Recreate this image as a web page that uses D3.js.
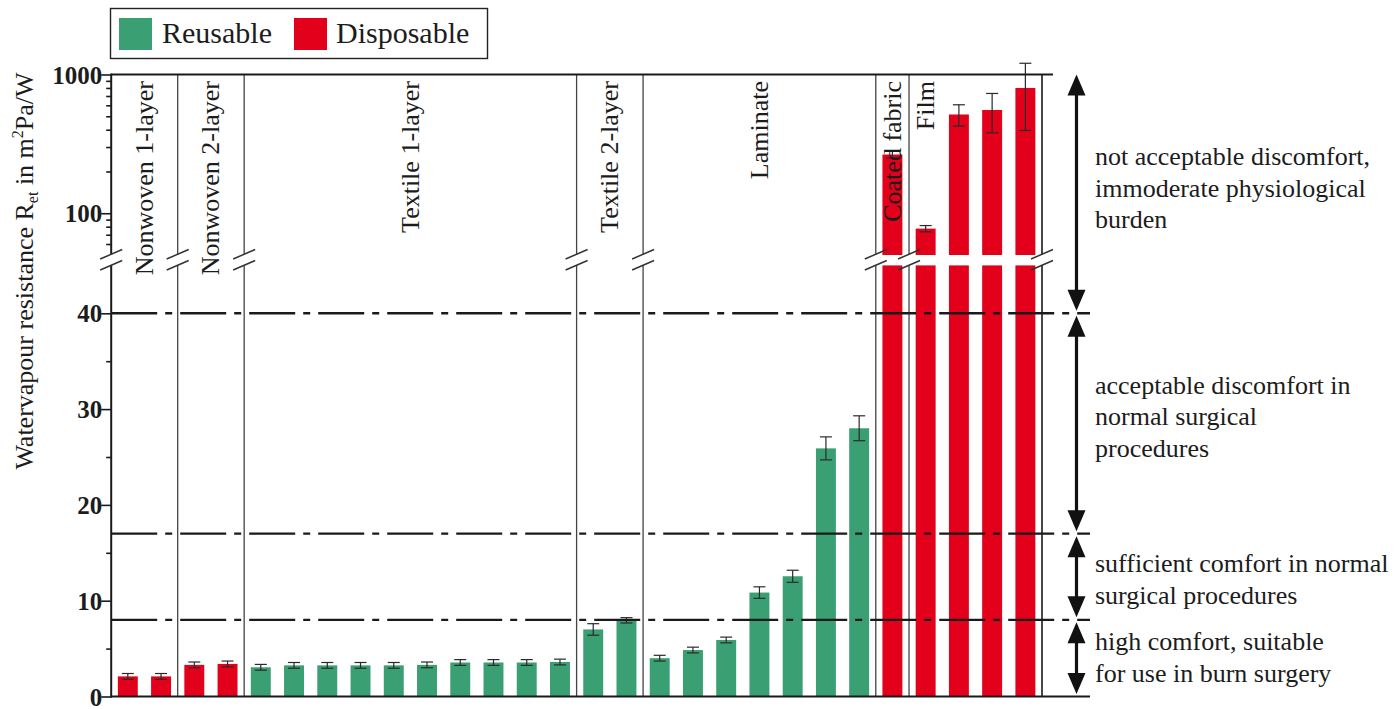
<!DOCTYPE html>
<html><head><meta charset="utf-8">
<script src="https://cdn.jsdelivr.net/npm/d3@7"></script>
<style>
body{margin:0;background:#fff}
svg{display:block}
text{font-family:"Liberation Serif","Times New Roman",serif;fill:#1c1c1c}
</style>
</head><body>
<svg id="c" width="1398" height="709"></svg>
<script>
// ---------------- data ----------------
const groups      = ["Nonwoven 1-layer","Nonwoven 2-layer","Textile 1-layer","Textile 2-layer","Laminate","Coated fabric","Film"];
const groupSizes  = [2, 2, 10, 2, 7, 1, 4];
const groupTypes  = ["Disposable","Disposable","Reusable","Reusable","Reusable","Disposable","Disposable"];
const labelAtFirstBar = ["Film"];
const values = [2.1, 2.1,  3.3, 3.4,
                3.05, 3.25, 3.25, 3.25, 3.25, 3.3, 3.55, 3.55, 3.55, 3.6,
                7.0, 7.95,
                4.0, 4.85, 5.9, 10.85, 12.55, 25.9, 28.0,
                265,
                77.5, 515, 555, 800];
const errors = [0.3, 0.3,  0.3, 0.3,
                0.3, 0.3, 0.3, 0.3, 0.3, 0.3, 0.3, 0.3, 0.3, 0.3,
                0.6, 0.28,
                0.3, 0.3, 0.3, 0.6, 0.63, 1.2, 1.3,
                15,
                4, 90, 175, 405];
const legendLabels = ["Reusable","Disposable"];
const linTicks  = [0, 10, 20, 30, 40];
const linMinor  = [5, 15, 25, 35];
const logTicks  = [100, 1000];
const logMinor  = [60, 70, 80, 90, 200, 300, 400, 500, 600, 700, 800, 900];
const thresholds = [40, 17, 8];
const zoneTexts = [
  ["not acceptable discomfort,","immoderate physiological","burden"],
  ["acceptable discomfort in","normal surgical","procedures"],
  ["sufficient comfort in normal","surgical procedures"],
  ["high comfort, suitable","for use in burn surgery"]
];
const yTitle = ["Watervapour resistance R","et"," in m","2","Pa/W"];

// ---------------- layout ----------------
const colors = {Reusable:"#3a9f73", Disposable:"#e2001a"};
const svg = d3.select("#c");
const axisX = 111.2, rightX = 1042, topY = 74.5, botY = 696.5;
const linMax = 45, logMin = 50, logMax = 1000;
const yLow  = d3.scaleLinear().domain([0, linMax]).range([botY, 265.4]);
const yHigh = d3.scaleLog().domain([logMin, logMax]).range([255, topY]);
const y = v => v <= linMax ? yLow(v) : yHigh(v);

const barType = [], barGroup = [];
groupSizes.forEach((n, g) => { for (let i = 0; i < n; i++) { barType.push(groupTypes[g]); barGroup.push(g); } });
const idx = d3.range(values.length);
const x = d3.scaleBand().domain(idx).range([axisX, rightX]).paddingInner(0.4).paddingOuter(0.2);
const step = x.step();
const bw = x.bandwidth();

// group boundaries
const starts = []; let acc = 0;
groupSizes.forEach(n => { starts.push(acc); acc += n; });
const sepXs = starts.slice(1).map(s => x(s) - step * 0.2);

const ink = "#1a1a1a";
const breakTop = 254.5, breakBot = 265;

// bars
const gb = svg.append("g");
idx.forEach(i => {
  const v = values[i], c = colors[barType[i]], cx = x(i);
  if (v <= linMax) {
    gb.append("rect").attr("x", cx).attr("width", bw).attr("y", yLow(v)).attr("height", yLow(0) - yLow(v)).attr("fill", c);
  } else {
    gb.append("rect").attr("x", cx).attr("width", bw).attr("y", yLow(linMax)).attr("height", yLow(0) - yLow(linMax)).attr("fill", c);
    gb.append("rect").attr("x", cx).attr("width", bw).attr("y", yHigh(v)).attr("height", yHigh(logMin) - yHigh(v)).attr("fill", c);
  }
});

// error bars
const ge = svg.append("g").attr("stroke", "#2a2a2a").attr("stroke-width", 1.2);
idx.forEach(i => {
  const v = values[i], e = errors[i], cx = x(i) + bw / 2;
  const y1 = y(v + e), y2 = y(v - e);
  ge.append("line").attr("x1", cx).attr("x2", cx).attr("y1", y1).attr("y2", y2);
  ge.append("line").attr("x1", cx - 6).attr("x2", cx + 6).attr("y1", y1).attr("y2", y1);
  ge.append("line").attr("x1", cx - 6).attr("x2", cx + 6).attr("y1", y2).attr("y2", y2);
});

// separators (broken)
const gs = svg.append("g").attr("stroke", "#444").attr("stroke-width", 1.3);
sepXs.forEach(sx => {
  gs.append("line").attr("x1", sx).attr("x2", sx).attr("y1", topY).attr("y2", breakTop);
  gs.append("line").attr("x1", sx).attr("x2", sx).attr("y1", breakBot).attr("y2", botY);
});
// right frame line
gs.append("line").attr("x1", rightX).attr("x2", rightX).attr("y1", topY).attr("y2", breakTop).attr("stroke", ink).attr("stroke-width", 1.6);
gs.append("line").attr("x1", rightX).attr("x2", rightX).attr("y1", breakBot).attr("y2", botY).attr("stroke", ink).attr("stroke-width", 1.6);

// threshold dash-dot lines
const gt = svg.append("g");
thresholds.forEach(t => {
  gt.append("line").attr("x1", axisX).attr("x2", 1090).attr("y1", yLow(t)).attr("y2", yLow(t))
    .attr("stroke", ink).attr("stroke-width", 2.4).attr("stroke-dasharray", "46,8,7,8");
});

// top and bottom lines
svg.append("line").attr("x1", axisX).attr("x2", 1053).attr("y1", topY).attr("y2", topY).attr("stroke", ink).attr("stroke-width", 2);
svg.append("line").attr("x1", axisX - 1).attr("x2", 1090).attr("y1", botY).attr("y2", botY).attr("stroke", ink).attr("stroke-width", 2);

// y axes (D3 axes), lower linear and upper log
const tickFont = 'bold 25px "Liberation Serif"';
function styleAxis(g) {
  g.select(".domain").remove();
  g.selectAll("line").attr("stroke", ink).attr("stroke-width", 1.6);
  g.selectAll("text").style("font", tickFont).attr("fill", ink).attr("x", -9).attr("dy", "0.34em");
}
const axLow = svg.append("g").attr("transform", `translate(${axisX},0)`)
  .call(d3.axisLeft(yLow).tickValues(linTicks).tickFormat(d3.format("d")).tickSize(10).tickSizeOuter(0));
styleAxis(axLow);
const axLowMinor = svg.append("g").attr("transform", `translate(${axisX},0)`)
  .call(d3.axisLeft(yLow).tickValues(linMinor).tickFormat("").tickSize(5).tickSizeOuter(0));
styleAxis(axLowMinor);
const axHigh = svg.append("g").attr("transform", `translate(${axisX},0)`)
  .call(d3.axisLeft(yHigh).tickValues(logTicks).tickFormat(d3.format("d")).tickSize(10).tickSizeOuter(0));
styleAxis(axHigh);
const axHighMinor = svg.append("g").attr("transform", `translate(${axisX},0)`)
  .call(d3.axisLeft(yHigh).tickValues(logMinor).tickFormat("").tickSize(5).tickSizeOuter(0));
styleAxis(axHighMinor);
// axis spine (broken)
svg.append("line").attr("x1", axisX).attr("x2", axisX).attr("y1", topY - 1).attr("y2", breakTop).attr("stroke", ink).attr("stroke-width", 2);
svg.append("line").attr("x1", axisX).attr("x2", axisX).attr("y1", breakBot).attr("y2", botY + 1).attr("stroke", ink).attr("stroke-width", 2);

// break slashes
const gk = svg.append("g").attr("stroke", "#333").attr("stroke-width", 1.5);
[axisX, ...sepXs, rightX].forEach(bx => {
  gk.append("line").attr("x1", bx - 11).attr("y1", 259).attr("x2", bx + 11).attr("y2", 249.5);
  gk.append("line").attr("x1", bx - 11).attr("y1", 270).attr("x2", bx + 11).attr("y2", 260.5);
});

// group labels (rotated)
groups.forEach((name, g) => {
  const first = starts[g], last = starts[g] + groupSizes[g] - 1;
  let lx;
  if (labelAtFirstBar.includes(name)) lx = x(first) + bw / 2;
  else lx = (x(first) + x(last) + bw) / 2;
  svg.append("text").attr("transform", `translate(${lx},81) rotate(-90)`)
    .attr("text-anchor", "end").attr("dominant-baseline", "central")
    .style("font-size", "26px").text(name);
});

// y title
const yt = svg.append("text").attr("transform", "translate(33,271) rotate(-90)")
  .attr("text-anchor", "middle").style("font-size", "26px");
yt.append("tspan").text(yTitle[0]);
yt.append("tspan").text(yTitle[1]).style("font-size", "16px").attr("dy", 5);
yt.append("tspan").text(yTitle[2]).attr("dy", -5);
yt.append("tspan").text(yTitle[3]).style("font-size", "16px").attr("dy", -10);
yt.append("tspan").text(yTitle[4]).attr("dy", 10);

// legend
svg.append("rect").attr("x", 110.5).attr("y", 8.5).attr("width", 377).attr("height", 50)
  .attr("fill", "#fff").attr("stroke", "#222").attr("stroke-width", 1.4);
const legX = [119, 294], legTX = [162, 336];
legendLabels.forEach((l, i) => {
  svg.append("rect").attr("x", legX[i]).attr("y", 18).attr("width", 33).attr("height", 32).attr("fill", colors[l]);
  svg.append("text").attr("x", legTX[i]).attr("y", 43).style("font-size", "30px").text(l);
});

// comfort zones: arrows + texts
const arrowX = 1076.5;
const bounds = [topY, yLow(40), yLow(17), yLow(8), botY];
const textShift = [-5, -6, 3, 0];
const ga = svg.append("g");
zoneTexts.forEach((lines, z) => {
  const yT = bounds[z] + (z === 0 ? 0 : 2.5), yB = bounds[z + 1] - 2.5;
  ga.append("line").attr("x1", arrowX).attr("x2", arrowX).attr("y1", yT + 15).attr("y2", yB - 15)
    .attr("stroke", "#111").attr("stroke-width", 3.2);
  ga.append("path").attr("d", `M${arrowX},${yT} L${arrowX - 9},${yT + 21} L${arrowX + 9},${yT + 21} Z`).attr("fill", "#111");
  ga.append("path").attr("d", `M${arrowX},${yB} L${arrowX - 9},${yB - 21} L${arrowX + 9},${yB - 21} Z`).attr("fill", "#111");
  const cy = (bounds[z] + bounds[z + 1]) / 2;
  const lh = 31.5;
  lines.forEach((t, k) => {
    ga.append("text").attr("x", 1095).attr("y", cy - (lines.length - 1) / 2 * lh + 8 + textShift[z] + k * lh)
      .style("font-size", "26px").text(t);
  });
});
</script>
</body></html>
